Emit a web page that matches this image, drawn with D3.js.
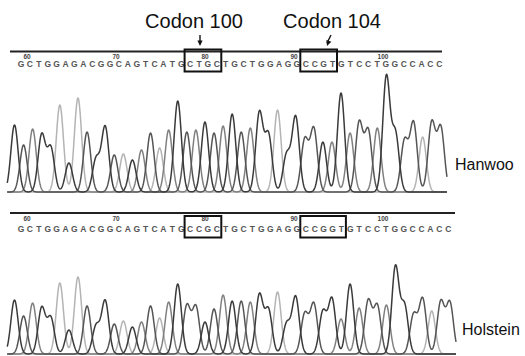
<!DOCTYPE html>
<html>
<head>
<meta charset="utf-8">
<script src="https://cdn.jsdelivr.net/npm/d3@7"></script>
<style>
  body { margin: 0; background: #fff; }
  svg { display: block; }
  .codon { font-family: "Liberation Sans", Arial, sans-serif; font-size: 20px; fill: #111; }
  .breed { font-family: "Liberation Sans", Arial, sans-serif; font-size: 16px; fill: #111; }
  .pos { font-family: "Liberation Sans", Arial, sans-serif; font-size: 6.5px; font-weight: bold; fill: #444; }
  .base { font-family: "Liberation Sans", Arial, sans-serif; font-size: 8.5px; font-weight: bold; fill: #555; }
</style>
</head>
<body>
<div id="chart"></div>
<script>
// base calls
const hanwooSeq = "GCTGGAGACGGCAGTCATGCTGCTGCTGGAGGCCGTGTCCTGGCCACC";
const holsteinSeq = "GCTGGAGACGGCAGTCATGCCGCTGCTGGAGGCCGGTGTCCTGGCCACC";

// peak heights (signal units), one per called base
const hanwooPeaks = [67, 47, 63, 57, 44, 87, 29, 94, 60, 33, 65, 37, 38, 32, 42, 59,
  44, 62, 91, 60, 62, 70, 59, 66, 78, 60, 64, 79, 57, 82, 37, 75, 52, 63, 50, 50,
  99, 59, 69, 61, 64, 115, 58, 51, 69, 55, 69, 64];
const holsteinPeaks = [54, 38, 51, 46, 36, 71, 24, 77, 48, 28, 53, 30, 33, 27, 32, 48,
  36, 52, 70, 48, 47, 32, 45, 59, 53, 53, 52, 59, 44, 62, 30, 57, 40, 50, 42, 55,
  35, 70, 46, 53, 48, 49, 87, 48, 39, 55, 43, 52, 51];

// sequence numbering (first base = 60)
const firstPos = 60;
const posTicks = [60, 70, 80, 90, 100];

// codon boxes as [first base index, last base index]
const hanwooBoxes = [[19, 22], [32, 35]];
const holsteinBoxes = [[19, 22], [32, 36]];

const codonLabels = ["Codon 100", "Codon 104"];
const breeds = ["Hanwoo", "Holstein"];

const channelColor = { A: "#b4b4b4", C: "#555", G: "#3a3a3a", T: "#808080" };

const width = 525, height = 356;

const svg = d3.select("#chart")
  .append("svg")
  .attr("width", width)
  .attr("height", height)
  .attr("viewBox", `0 0 ${width} ${height}`);

svg.append("rect").attr("width", width).attr("height", height).attr("fill", "#fff");

// letters and traces share index scales
const seqX = d3.scaleLinear().domain([0, 48]).range([21, 21 + 48 * 8.9]);
const traceX = d3.scaleLinear().domain([0, 48]).range([14.5, 14.5 + 48 * 9.07]);

const panels = [
  { seq: hanwooSeq, peaks: hanwooPeaks, boxes: hanwooBoxes, breed: breeds[0],
    lineY: 51.5, lineEnd: 442, posY: 58.5, baseY: 67, boxTop: 49.5, boxBottom: 71.5,
    y: d3.scaleLinear().domain([0, 115]).range([192, 77]), breedX: 455, breedY: 170 },
  { seq: holsteinSeq, peaks: holsteinPeaks, boxes: holsteinBoxes, breed: breeds[1],
    lineY: 213, lineEnd: 455, posY: 221, baseY: 232, boxTop: 216, boxBottom: 237.5,
    y: d3.scaleLinear().domain([0, 115]).range([354, 239]), breedX: 462, breedY: 335 }
];

// codon headers + arrows
const headers = svg.append("g").attr("class", "headers");
headers.selectAll("text")
  .data(codonLabels)
  .join("text")
  .attr("class", "codon")
  .attr("x", (d, i) => [194, 332][i])
  .attr("y", 27.5)
  .attr("text-anchor", "middle")
  .text(d => d);

const arrows = [[200, 35, 200, 46], [331, 35, 327, 46]];
arrows.forEach(([x1, y1, x2, y2]) => {
  headers.append("line")
    .attr("x1", x1).attr("y1", y1).attr("x2", x2).attr("y2", y2 - 3)
    .attr("stroke", "#111").attr("stroke-width", 1.4);
  const ang = Math.atan2(y2 - y1, x2 - x1);
  const p = (a, r) => [x2 - r * Math.cos(ang + a), y2 - r * Math.sin(ang + a)];
  headers.append("path")
    .attr("d", d3.line()([[x2, y2], p(0.45, 6), p(-0.45, 6)]) + "Z")
    .attr("fill", "#111");
});

panels.forEach(pn => {
  const g = svg.append("g");

  g.append("line")
    .attr("x1", 10).attr("x2", pn.lineEnd)
    .attr("y1", pn.lineY).attr("y2", pn.lineY)
    .attr("stroke", "#222").attr("stroke-width", 2);

  // position numbers
  g.selectAll("text.pos")
    .data(posTicks)
    .join("text")
    .attr("class", "pos")
    .attr("x", d => seqX(d - firstPos) + 6)
    .attr("y", pn.posY)
    .attr("text-anchor", "middle")
    .text(d => d);

  // base letters
  g.selectAll("text.base")
    .data(pn.seq.split(""))
    .join("text")
    .attr("class", "base")
    .attr("x", (d, i) => seqX(i))
    .attr("y", pn.baseY)
    .attr("text-anchor", "middle")
    .text(d => d);

  // codon boxes
  g.selectAll("rect.box")
    .data(pn.boxes)
    .join("rect")
    .attr("class", "box")
    .attr("x", d => seqX(d[0]) - 5.5)
    .attr("y", pn.boxTop)
    .attr("width", d => seqX(d[1]) - seqX(d[0]) + 10)
    .attr("height", pn.boxBottom - pn.boxTop)
    .attr("fill", "none")
    .attr("stroke", "#111")
    .attr("stroke-width", 2);

  // chromatogram: one trace per channel
  const sigma = 0.4;
  const n = pn.peaks.length;
  const samples = d3.range(-0.8, n - 0.3, 0.04);
  const line = d3.line()
    .x(d => traceX(d[0]))
    .y(d => pn.y(d[1]));

  ["A", "T", "C", "G"].forEach(ch => {
    const idx = d3.range(n).filter(i => pn.seq[i] === ch);
    const pts = samples.map(t => [t, d3.sum(idx, i =>
      pn.peaks[i] * Math.exp(-((t - i) ** 2) / (2 * sigma * sigma)))]);
    g.append("path")
      .datum(pts)
      .attr("d", line)
      .attr("fill", "none")
      .attr("stroke", channelColor[ch])
      .attr("stroke-width", 1.5)
      .attr("stroke-linejoin", "round");
  });

  g.append("text")
    .attr("class", "breed")
    .attr("x", pn.breedX)
    .attr("y", pn.breedY)
    .text(pn.breed);
});
</script>
</body>
</html>
